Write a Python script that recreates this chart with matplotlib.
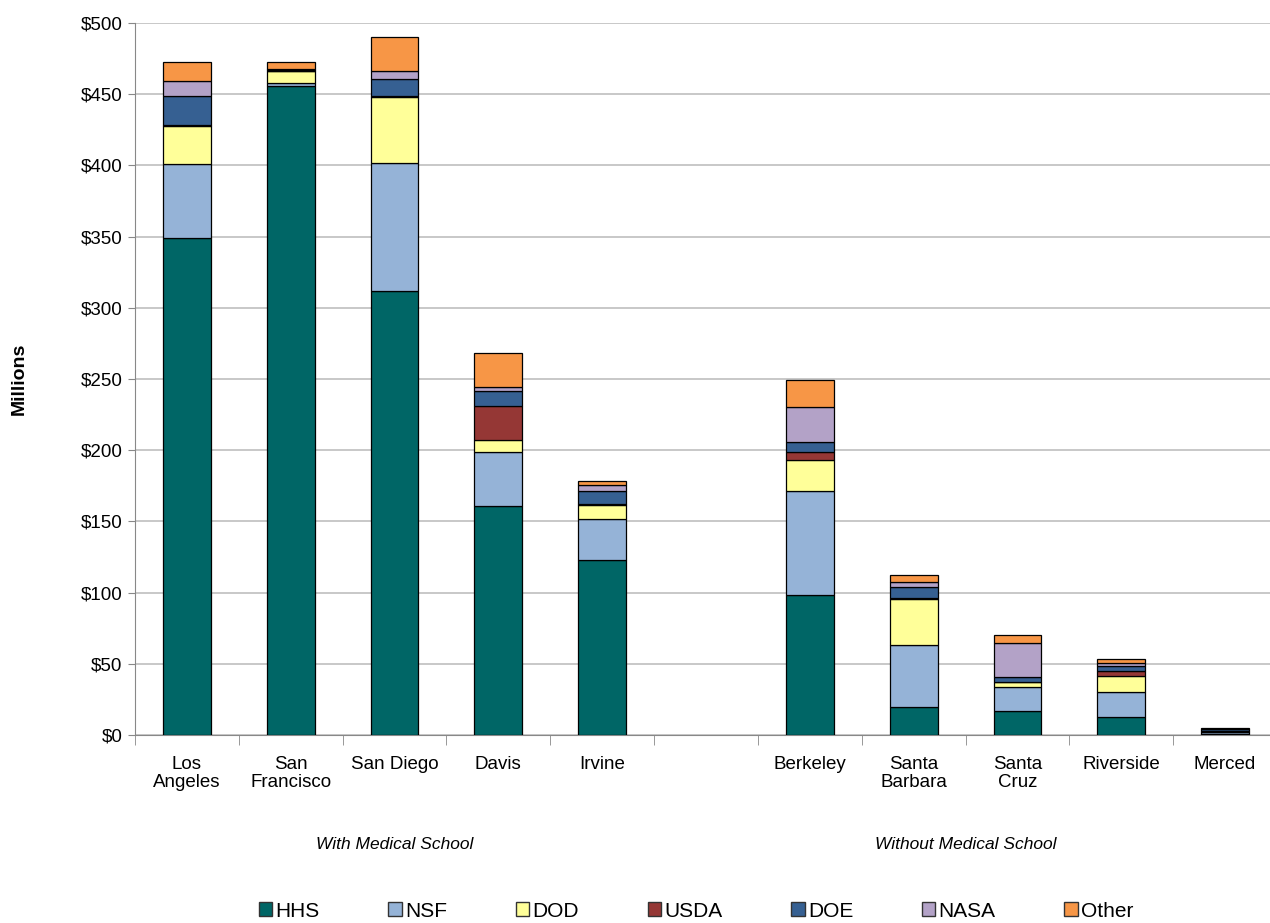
import matplotlib.pyplot as plt
import numpy as np
from matplotlib.patches import Patch

plt.rcParams['font.family'] = ['Liberation Sans', 'DejaVu Sans']

# campuses, with an empty slot separating the two groups
campuses = ['Los\nAngeles', 'San\nFrancisco', 'San Diego', 'Davis', 'Irvine', '',
            'Berkeley', 'Santa\nBarbara', 'Santa\nCruz', 'Riverside', 'Merced']

# funding by agency, $ millions
hhs = [349, 456, 312, 161, 123, 0, 98, 19.5, 17, 12.6, 0.5]
nsf = [52, 2, 90, 38, 29, 0, 73.6, 43.5, 16.5, 17.6, 1.5]
dod = [27, 8, 46, 8, 9.5, 0, 21.5, 32.5, 3.5, 11, 0.3]
usda = [0.5, 0.3, 0.5, 24, 0.5, 0, 5.4, 0.7, 0.5, 3.5, 0.3]
doe = [20, 1, 12, 10.5, 9, 0, 7.3, 7.5, 3.5, 4, 1.5]
nasa = [11, 0.3, 6, 3, 4.5, 0, 24.3, 4, 23.4, 2, 0.3]
other = [13, 5, 24, 24, 2.7, 0, 19, 4.5, 5.6, 3, 0.7]

agencies = ['HHS', 'NSF', 'DOD', 'USDA', 'DOE', 'NASA', 'Other']
series = [hhs, nsf, dod, usda, doe, nasa, other]
colors = ['#006666', '#95B3D7', '#FFFF99', '#953735', '#366092', '#B3A2C7', '#F79646']

groups = ['With Medical School', 'Without Medical School']

fig = plt.figure(figsize=(12.7, 9.23), dpi=100)
ax = fig.add_axes([135 / 1270, 188 / 923, 1142 / 1270, 712 / 923])

x = np.arange(len(campuses))
bottom = np.zeros(len(campuses))
for name, vals, col in zip(agencies, series, colors):
    vals = np.array(vals, dtype=float)
    mask = vals > 0
    ax.bar(x[mask], vals[mask], 0.46, bottom=bottom[mask], color=col,
           edgecolor='black', linewidth=0.9, zorder=3)
    bottom += vals

ax.set_xlim(-0.5, len(campuses) - 0.5)
ax.set_ylim(0, 500)
ax.set_yticks(np.arange(0, 501, 50))
ax.set_yticklabels([f'${v}' for v in range(0, 501, 50)], fontsize=13.5)
ax.yaxis.grid(True, color='#BFBFBF', linewidth=1.2, zorder=0)
ax.tick_params(axis='y', length=5, color='#888888', pad=4)

ax.set_xticks(x)
ax.set_xticklabels(campuses, fontsize=13.5, linespacing=1.1)
ax.set_xticks(np.arange(-0.5, len(campuses)), minor=True)
ax.tick_params(axis='x', which='major', length=0, pad=15)
ax.tick_params(axis='x', which='minor', length=7, color='#888888')

for side in ['top', 'right']:
    ax.spines[side].set_visible(False)
ax.spines['left'].set_color('#888888')
ax.spines['bottom'].set_color('#888888')

ax.set_ylabel('Millions', fontsize=14, fontweight='bold', labelpad=38)

# group labels
ax.text(2, -77, groups[0], ha='center', va='center', fontsize=12.5,
        style='italic', clip_on=False)
ax.text(7.5, -77, groups[1], ha='center', va='center', fontsize=12.5,
        style='italic', clip_on=False)

handles = [Patch(facecolor=c, edgecolor='#333333', linewidth=1.0, label=a)
           for a, c in zip(agencies, colors)]
fig.legend(handles=handles, loc='center', bbox_to_anchor=(0.548, 0.013),
           ncol=7, frameon=False, fontsize=15, handlelength=0.65,
           handleheight=0.65, handletextpad=0.15, columnspacing=3.3)

fig.savefig('out.png', dpi=100)
